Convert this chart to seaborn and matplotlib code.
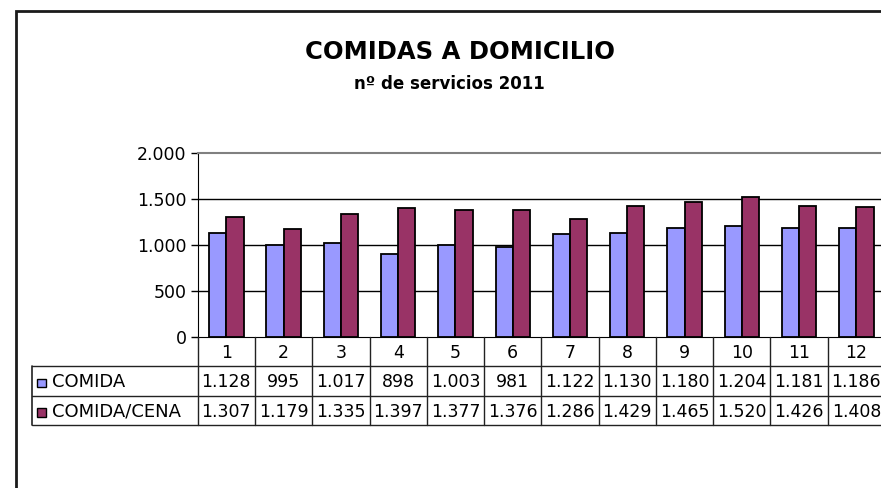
import matplotlib
matplotlib.use("Agg")
import matplotlib.pyplot as plt
from matplotlib.patches import Rectangle
import seaborn as sns
import pandas as pd

meses = [str(m) for m in range(1, 13)]
comida = [1128, 995, 1017, 898, 1003, 981, 1122, 1130, 1180, 1204, 1181, 1186]
comida_cena = [1307, 1179, 1335, 1397, 1377, 1376, 1286, 1429, 1465, 1520, 1426, 1408]
series = ["COMIDA", "COMIDA/CENA"]
colores = ["#9999FF", "#993366"]
titulo = "COMIDAS A DOMICILIO"
subtitulo = "nº de servicios 2011"

df = pd.DataFrame({
    "mes": meses * 2,
    "valor": comida + comida_cena,
    "serie": [series[0]] * 12 + [series[1]] * 12,
})

def fmt(v):
    return f"{v:,}".replace(",", ".")

sns.set_style("white")
plt.rcParams["font.family"] = ["DejaVu Sans"]
plt.rcParams["text.color"] = "black"
plt.rcParams["ytick.color"] = "black"
plt.rcParams["ytick.labelcolor"] = "black"

W, H = 881, 488
fig = plt.figure(figsize=(W / 100, H / 100), dpi=100)

# pixel layout of the plot area (right edge runs past the image, as in the original)
x0, x1 = 197.7, 885.0
y_top, y_zero, y_tab = 153.0, 337.0, 425.0
tab_left = 32.0
unit = (x1 - x0) / 12

ax = fig.add_axes([x0 / W, 1 - y_zero / H, (x1 - x0) / W, (y_zero - y_top) / H])
sns.barplot(data=df, x="mes", y="valor", hue="serie", order=meses,
            hue_order=series, palette=colores, saturation=1, width=0.6,
            edgecolor="black", linewidth=1.3, legend=False, ax=ax, zorder=3)
ax.set_xlim(-0.5, 11.5)
ax.set_ylim(0, 2000)
ax.set_yticks([0, 500, 1000, 1500, 2000])
ax.set_yticklabels([fmt(v) for v in [0, 500, 1000, 1500, 2000]], fontsize=12.5,
                   color="black")
ax.set_xticks([])
ax.set_xlabel("")
ax.set_ylabel("")
ax.tick_params(axis="y", length=5, width=1, color="black", direction="out",
               left=True, pad=3)
for y in [500, 1000, 1500]:
    ax.axhline(y, color="black", lw=1, zorder=1)
ax.spines["left"].set_color("black")
ax.spines["bottom"].set_color("black")
ax.spines["top"].set_color("#808080")
ax.spines["top"].set_linewidth(1.5)
ax.spines["right"].set_visible(False)

# data table under the chart
tax = fig.add_axes([tab_left / W, 1 - y_tab / H, (x1 - tab_left) / W, (y_tab - y_zero) / H])
left_lim = -0.5 - (x0 - tab_left) / unit
tax.set_xlim(left_lim, 11.5)
tax.set_ylim(3, 0)
tax.axis("off")
lc = "#222222"
for k in range(13):
    tax.plot([k - 0.5, k - 0.5], [0, 3], color=lc, lw=1, clip_on=False)
tax.plot([left_lim, left_lim], [1, 3], color=lc, lw=1.2, clip_on=False)
for r in [1, 2, 3]:
    tax.plot([left_lim, 11.5], [r, r], color=lc, lw=1, clip_on=False)
for i, m in enumerate(meses):
    tax.text(i, 0.55, m, ha="center", va="center", fontsize=12.5, color="black")
    tax.text(i, 1.55, fmt(comida[i]), ha="center", va="center", fontsize=12.5,
             color="black")
    tax.text(i, 2.55, fmt(comida_cena[i]), ha="center", va="center", fontsize=12.5,
             color="black")
key_x = left_lim + 9 / unit
txt_x = left_lim + 20 / unit
for r, (s, c) in enumerate(zip(series, colores), start=1):
    tax.add_patch(Rectangle((key_x - 4 / unit, r + 0.42), 9 / unit, 0.3,
                            facecolor=c, edgecolor="black", lw=1, clip_on=False))
    tax.text(txt_x, r + 0.55, s, ha="left", va="center", fontsize=13, color="black")

# titles
fig.text(460 / W, 1 - 52 / H, titulo, ha="center", va="center",
         fontsize=17.5, fontweight="bold", color="black")
fig.text(449 / W, 1 - 84 / H, subtitulo, ha="center", va="center",
         fontsize=12, fontweight="bold", color="black")

# chart area border
fig.add_artist(Rectangle((16 / W, -0.1), 1.2, 1 - 11.5 / H + 0.1,
                         transform=fig.transFigure, fill=False,
                         edgecolor="#1a1a1a", lw=2))

fig.savefig("out.png", dpi=100, facecolor="white")
